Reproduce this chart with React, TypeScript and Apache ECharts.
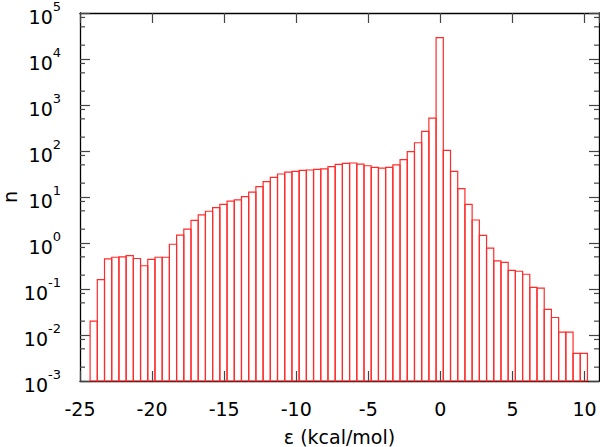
import React, { useEffect, useRef } from "react";
import * as echarts from "echarts";

// Histogram of ε (kcal/mol): bins of 0.5 starting at -24.3
const binStart = -24.3;
const binWidth = 0.5;
const counts = [
  0.02, 0.16, 0.45, 0.49, 0.5, 0.53, 0.46, 0.32, 0.44, 0.49,
  0.49, 0.94, 1.49, 2.0, 3.1, 4.1, 4.9, 5.9, 6.9, 8.1,
  8.7, 10.2, 12.8, 16.8, 21.6, 26.8, 31.6, 34.9, 36.2, 38,
  38.6, 40, 41, 45.6, 51, 54, 54.8, 52, 47.8, 44,
  42.6, 44, 50, 64.7, 96.6, 151, 268, 521, 29100, 103,
  36, 15.2, 6.9, 3.16, 1.47, 0.77, 0.41, 0.38, 0.255, 0.243,
  0.209, 0.109, 0.104, 0.036, 0.024, 0.0116, 0.0116, 0.004, 0.004,
];

const xMin = -25;
const xMax = 11;
const xInterval = 5;
const yMin = 0.001;
const yMax = 100000;
const minorMultipliers = [2, 5, 8];
const decades = [-3, -2, -1, 0, 1, 2, 3, 4];

const FONT = "DejaVu Sans";

export default function App() {
  const ref = useRef<HTMLDivElement>(null);

  useEffect(() => {
    document.body.style.margin = "0";
    if (!ref.current) return;
    const chart = echarts.init(ref.current, null, { renderer: "svg" });

    const histData = counts.map((c, i) => [
      binStart + i * binWidth,
      binStart + (i + 1) * binWidth,
      c,
    ]);
    const minorData: number[][] = [];
    decades.forEach((d) =>
      minorMultipliers.forEach((m) => minorData.push([xMin, m * Math.pow(10, d)]))
    );

    const axisLineStyle = { color: "#000", width: 1.3 };
    const tickStyle = { color: "#444", width: 1.2 };

    const yLabelFormatter = (v: number) => {
      const e = Math.round(Math.log10(v));
      return `{b|10}{s|${e}}`;
    };

    chart.setOption({
      animation: false,
      backgroundColor: "#fff",
      grid: {
        left: 80,
        right: 1,
        top: 13,
        bottom: 66,
        containLabel: false,
        outerBoundsMode: "none",
      },
      xAxis: [
        {
          type: "value",
          min: xMin,
          max: xMax,
          interval: xInterval,
          name: "ε (kcal/mol)",
          nameLocation: "middle",
          nameGap: 46,
          nameMoveOverlap: false,
          nameTextStyle: { fontFamily: FONT, fontSize: 19, color: "#000" },
          axisLine: { show: true, onZero: false, lineStyle: axisLineStyle },
          axisTick: { show: true, inside: true, length: 10, lineStyle: tickStyle },
          axisLabel: {
            fontFamily: FONT,
            fontSize: 19,
            color: "#000",
            margin: 18,
            showMaxLabel: false,
          },
          splitLine: { show: false },
        },
        {
          type: "value",
          position: "top",
          min: xMin,
          max: xMax,
          interval: xInterval,
          axisLine: { show: true, onZero: false, lineStyle: axisLineStyle },
          axisTick: { show: true, inside: true, length: 10, lineStyle: tickStyle },
          axisLabel: { show: false },
          splitLine: { show: false },
        },
      ],
      yAxis: [
        {
          type: "log",
          logBase: 10,
          min: yMin,
          max: yMax,
          splitNumber: 8,
          name: "n",
          nameLocation: "middle",
          nameGap: 61,
          nameMoveOverlap: false,
          nameRotate: 90,
          nameTextStyle: { fontFamily: FONT, fontSize: 19, color: "#000" },
          axisLine: { show: true, onZero: false, lineStyle: axisLineStyle },
          axisTick: { show: true, inside: true, length: 10, lineStyle: tickStyle },
          axisLabel: {
            margin: 19,
            formatter: yLabelFormatter,
            rich: {
              b: {
                fontFamily: FONT,
                fontSize: 19,
                color: "#000",
                lineHeight: 26,
                verticalAlign: "bottom",
              },
              s: {
                fontFamily: FONT,
                fontSize: 13,
                color: "#000",
                lineHeight: 14,
                verticalAlign: "top",
              },
            },
          },
          splitLine: { show: false },
        },
        {
          type: "log",
          logBase: 10,
          position: "right",
          min: yMin,
          max: yMax,
          splitNumber: 8,
          axisLine: { show: true, onZero: false, lineStyle: axisLineStyle },
          axisTick: { show: true, inside: true, length: 10, lineStyle: tickStyle },
          axisLabel: { show: false },
          splitLine: { show: false },
        },
      ],
      series: [
        {
          type: "custom",
          xAxisIndex: 0,
          yAxisIndex: 0,
          data: histData,
          encode: { x: [0, 1], y: 2 },
          renderItem: (params: any, api: any) => {
            const p0 = api.coord([api.value(0), api.value(2)]);
            const p1 = api.coord([api.value(1), yMin]);
            return {
              type: "rect",
              shape: {
                x: p0[0],
                y: p0[1],
                width: p1[0] - p0[0],
                height: p1[1] - p0[1],
              },
              style: { fill: "none", stroke: "#ff2b2b", lineWidth: 1.2 },
            };
          },
          z: 1,
        },
        {
          type: "custom",
          xAxisIndex: 0,
          yAxisIndex: 0,
          data: minorData,
          encode: { x: 0, y: 1 },
          clip: false,
          renderItem: (params: any, api: any) => {
            const v = api.value(1);
            const pl = api.coord([xMin, v]);
            const pr = api.coord([xMax, v]);
            return {
              type: "group",
              children: [
                {
                  type: "line",
                  shape: { x1: pl[0], y1: pl[1], x2: pl[0] + 5, y2: pl[1] },
                  style: { stroke: "#444", lineWidth: 1.2 },
                },
                {
                  type: "line",
                  shape: { x1: pr[0], y1: pr[1], x2: pr[0] - 5, y2: pr[1] },
                  style: { stroke: "#444", lineWidth: 1.2 },
                },
              ],
            };
          },
          z: 3,
        },
      ],
    });

    return () => chart.dispose();
  }, []);

  return <div ref={ref} style={{ width: 600, height: 447 }} />;
}
